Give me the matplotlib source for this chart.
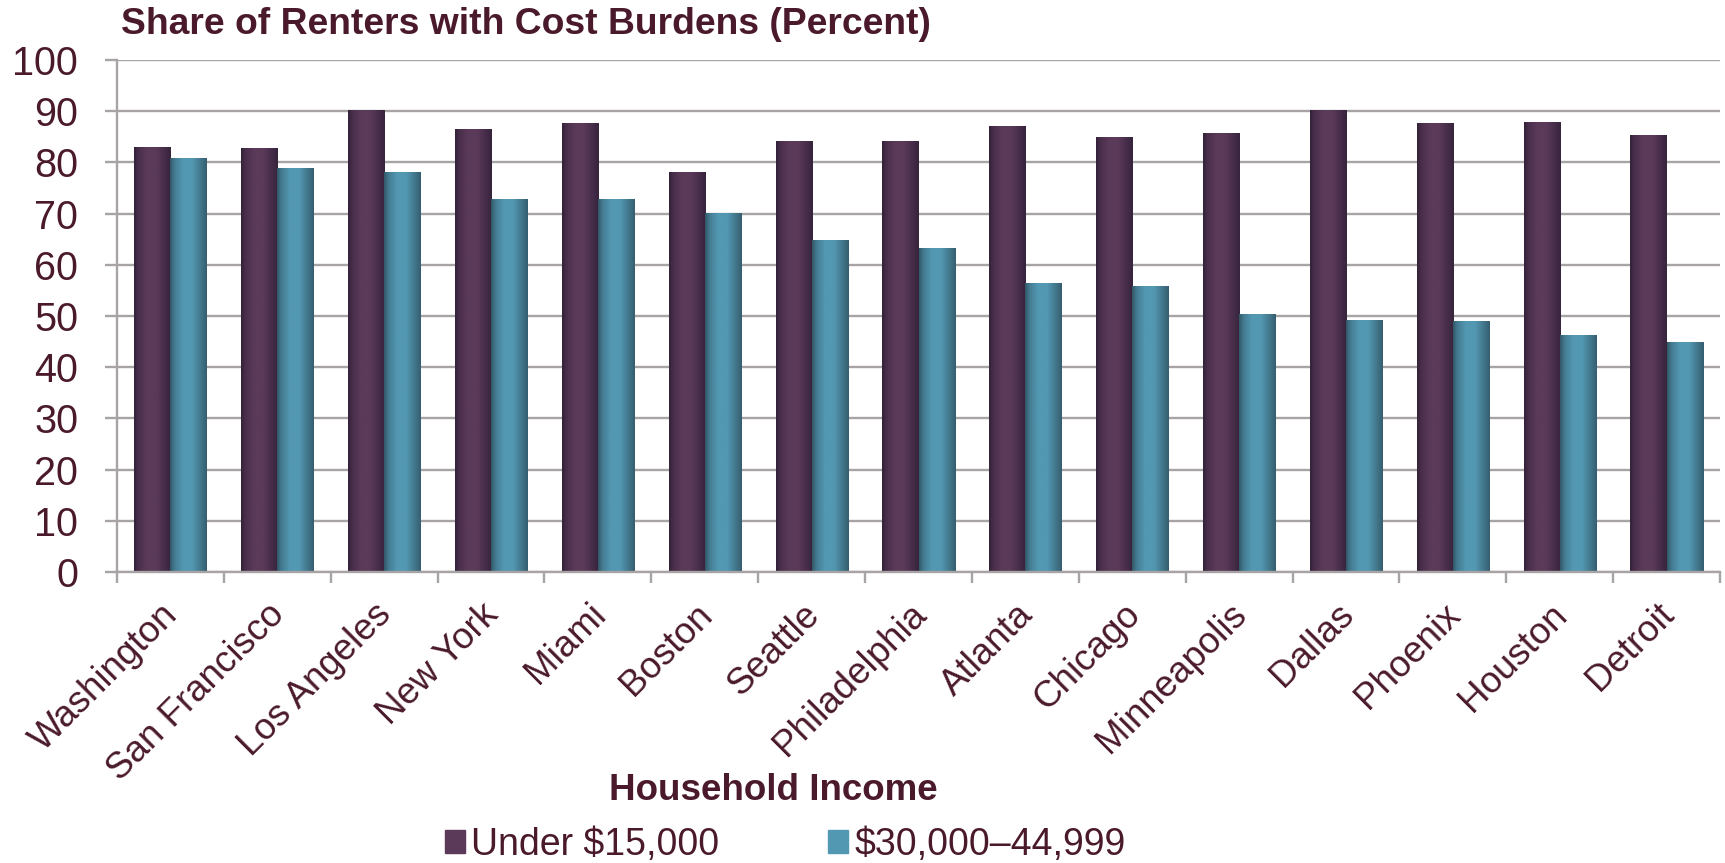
import matplotlib
matplotlib.use('Agg')
import matplotlib.pyplot as plt
import numpy as np
from matplotlib.colors import to_rgb
from matplotlib.transforms import ScaledTranslation

cities = ['Washington', 'San Francisco', 'Los Angeles', 'New York', 'Miami',
          'Boston', 'Seattle', 'Philadelphia', 'Atlanta', 'Chicago',
          'Minneapolis', 'Dallas', 'Phoenix', 'Houston', 'Detroit']
under_15k = [83.0, 82.8, 90.2, 86.5, 87.7, 78.1, 84.2, 84.2, 87.1, 85.0,
             85.7, 90.2, 87.7, 87.9, 85.4]
from_30k_to_45k = [80.9, 78.9, 78.1, 72.9, 72.9, 70.1, 64.8, 63.3, 56.4, 55.9,
                   50.4, 49.2, 49.0, 46.3, 44.9]
series_names = ['Under $15,000', '$30,000\u201344,999']
y_ticks = list(range(0, 101, 10))

text_color = '#4a1a2c'
grid_color = '#a8a4a6'
purple_edge, purple_mid = '#33213a', '#5b3a59'
teal_edge, teal_mid = '#325868', '#5398b2'

plt.rcParams['font.family'] = ['Liberation Sans', 'DejaVu Sans']


def shade_bar(ax, bar, edge, mid):
    # cylinder-like horizontal shading, clipped to the bar rectangle
    t = np.linspace(0, 1, 80)
    k = np.interp(t, [0.0, 0.12, 0.35, 0.6, 0.85, 1.0],
                  [0.0, 0.55, 1.0, 1.0, 0.45, 0.1])
    e, m = np.array(to_rgb(edge)), np.array(to_rgb(mid))
    row = e[None, :] + (m - e)[None, :] * k[:, None]
    img = row[None, :, :]
    x0, w, h = bar.get_x(), bar.get_width(), bar.get_height()
    im = ax.imshow(img, extent=[x0, x0 + w, 0, h], aspect='auto',
                   interpolation='bilinear', zorder=bar.get_zorder() + 0.1)
    im.set_clip_path(bar)


fig = plt.figure(figsize=(17.25, 8.63), dpi=100)
ax = fig.add_axes([117 / 1725, 1 - 572 / 863, (1720 - 117) / 1725, (572 - 60) / 863])

x = np.arange(len(cities))
width = 0.3375
bars_a = ax.bar(x - width / 2, under_15k, width, color=purple_mid, zorder=2)
bars_b = ax.bar(x + width / 2, from_30k_to_45k, width, color=teal_mid, zorder=2)
for b in bars_a:
    shade_bar(ax, b, purple_edge, purple_mid)
for b in bars_b:
    shade_bar(ax, b, teal_edge, teal_mid)

ax.set_xlim(-0.5, len(cities) - 0.5)
ax.set_ylim(0, 100)
ax.set_axisbelow(True)
ax.yaxis.grid(True, color=grid_color, linewidth=1.7)
ax.set_yticks(y_ticks)
ax.tick_params(axis='y', length=9, width=1.7, color=grid_color, pad=19,
               labelsize=28.5, labelcolor=text_color)

# category boundaries carry the tick marks, centres carry the labels
ax.set_xticks(np.arange(-0.5, len(cities)), minor=True)
ax.set_xticks(x)
ax.set_xticklabels(cities)
ax.tick_params(axis='x', which='minor', length=8, width=1.7, color=grid_color)
ax.tick_params(axis='x', which='major', length=0, pad=18,
               labelsize=26.5, labelcolor=text_color)
for lbl in ax.get_xticklabels():
    lbl.set_rotation(45)
    lbl.set_ha('right')
    lbl.set_va('top')
    lbl.set_rotation_mode('anchor')
    lbl.set_transform(lbl.get_transform() + ScaledTranslation(-0.10, 0, fig.dpi_scale_trans))

for side in ['top', 'right']:
    ax.spines[side].set_visible(False)
for side in ['left', 'bottom']:
    ax.spines[side].set_color(grid_color)
    ax.spines[side].set_linewidth(1.7)

fig.text(121 / 1725, 1 - 24 / 863, 'Share of Renters with Cost Burdens (Percent)',
         fontsize=26.8, fontweight='bold', color=text_color, ha='left', va='center')
fig.text(773 / 1725, 1 - 790 / 863, 'Household Income', fontsize=26.5,
         fontweight='bold', color=text_color, ha='center', va='center')

handles = [plt.Rectangle((0, 0), 1, 1, color=purple_mid),
           plt.Rectangle((0, 0), 1, 1, color=teal_mid)]
leg = fig.legend(handles, series_names, loc='center', ncol=2,
                 bbox_to_anchor=(785 / 1725, 1 - 845 / 863), frameon=False,
                 fontsize=27, handlelength=0.55, handleheight=0.55,
                 handletextpad=0.15, columnspacing=2.9, borderpad=0)
for t in leg.get_texts():
    t.set_color(text_color)

fig.savefig('out.png', dpi=100)
